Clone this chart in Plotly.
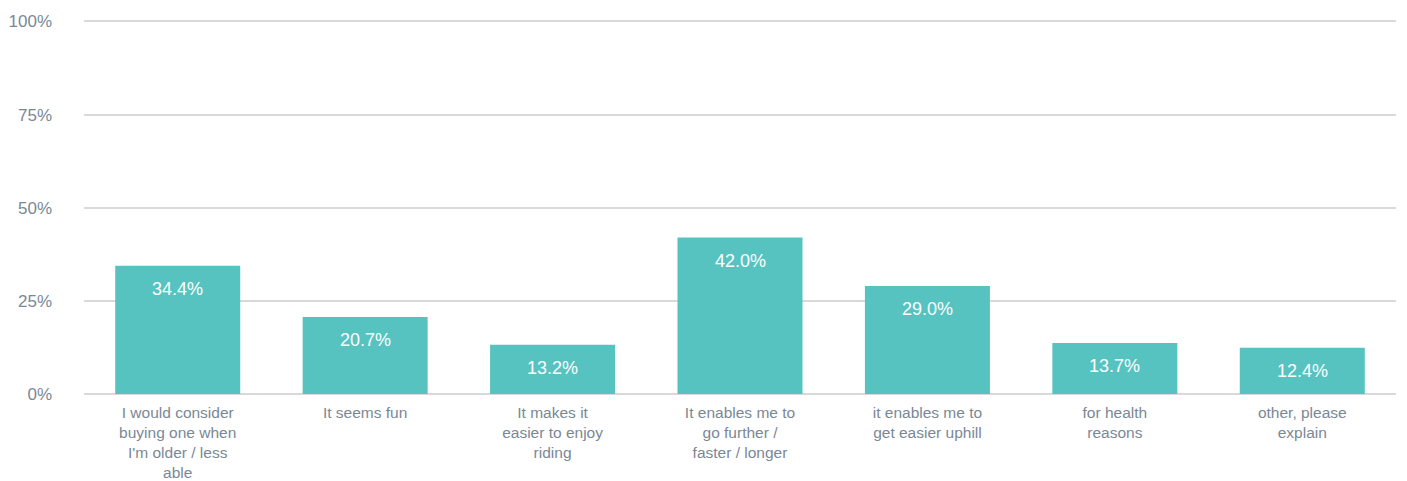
import plotly.graph_objects as go

categories = [
    "I would consider<br>buying one when<br>I'm older / less<br>able",
    "It seems fun",
    "It makes it<br>easier to enjoy<br>riding",
    "It enables me to<br>go further /<br>faster / longer",
    "it enables me to<br>get easier uphill",
    "for health<br>reasons",
    "other, please<br>explain",
]
values = [34.4, 20.7, 13.2, 42.0, 29.0, 13.7, 12.4]
y_ticks = [0, 25, 50, 75, 100]
y_tick_labels = ["0%", "25%", "50%", "75%", "100%"]

BAR = "#57c3c0"
TXT = "#7a8896"
GRID = "#d9d9d9"
FONT = "Liberation Sans, Arial, sans-serif"

fig = go.Figure(go.Bar(x=categories, y=values, marker=dict(color=BAR, line=dict(width=0)),
                       hoverinfo="skip"))

for c, v in zip(categories, values):
    fig.add_annotation(x=c, y=v, text=f"{v:.1f}%", showarrow=False, yanchor="top",
                       yshift=-11, font=dict(family=FONT, size=18, color="white"))

fig.update_layout(
    width=1407, height=481,
    margin=dict(l=84, r=11, t=20, b=87),
    paper_bgcolor="white", plot_bgcolor="white",
    bargap=0.333, showlegend=False,
    font=dict(family=FONT, color=TXT),
)
fig.update_xaxes(showgrid=False, showline=False, zeroline=False, ticks="",
                 tickfont=dict(size=15.5, color=TXT), ticklabelstandoff=7,
                 automargin=False)
fig.update_yaxes(range=[0, 100.4], tickvals=y_ticks, ticktext=y_tick_labels,
                 showgrid=True, gridcolor=GRID, gridwidth=2, zeroline=True,
                 zerolinecolor=GRID, zerolinewidth=2, showline=False, ticks="",
                 tickfont=dict(size=17, color=TXT), ticklabelstandoff=31,
                 automargin=False)

fig.write_html("out.html", config={"displayModeBar": False},
               post_script="document.body.style.margin='0px';")
